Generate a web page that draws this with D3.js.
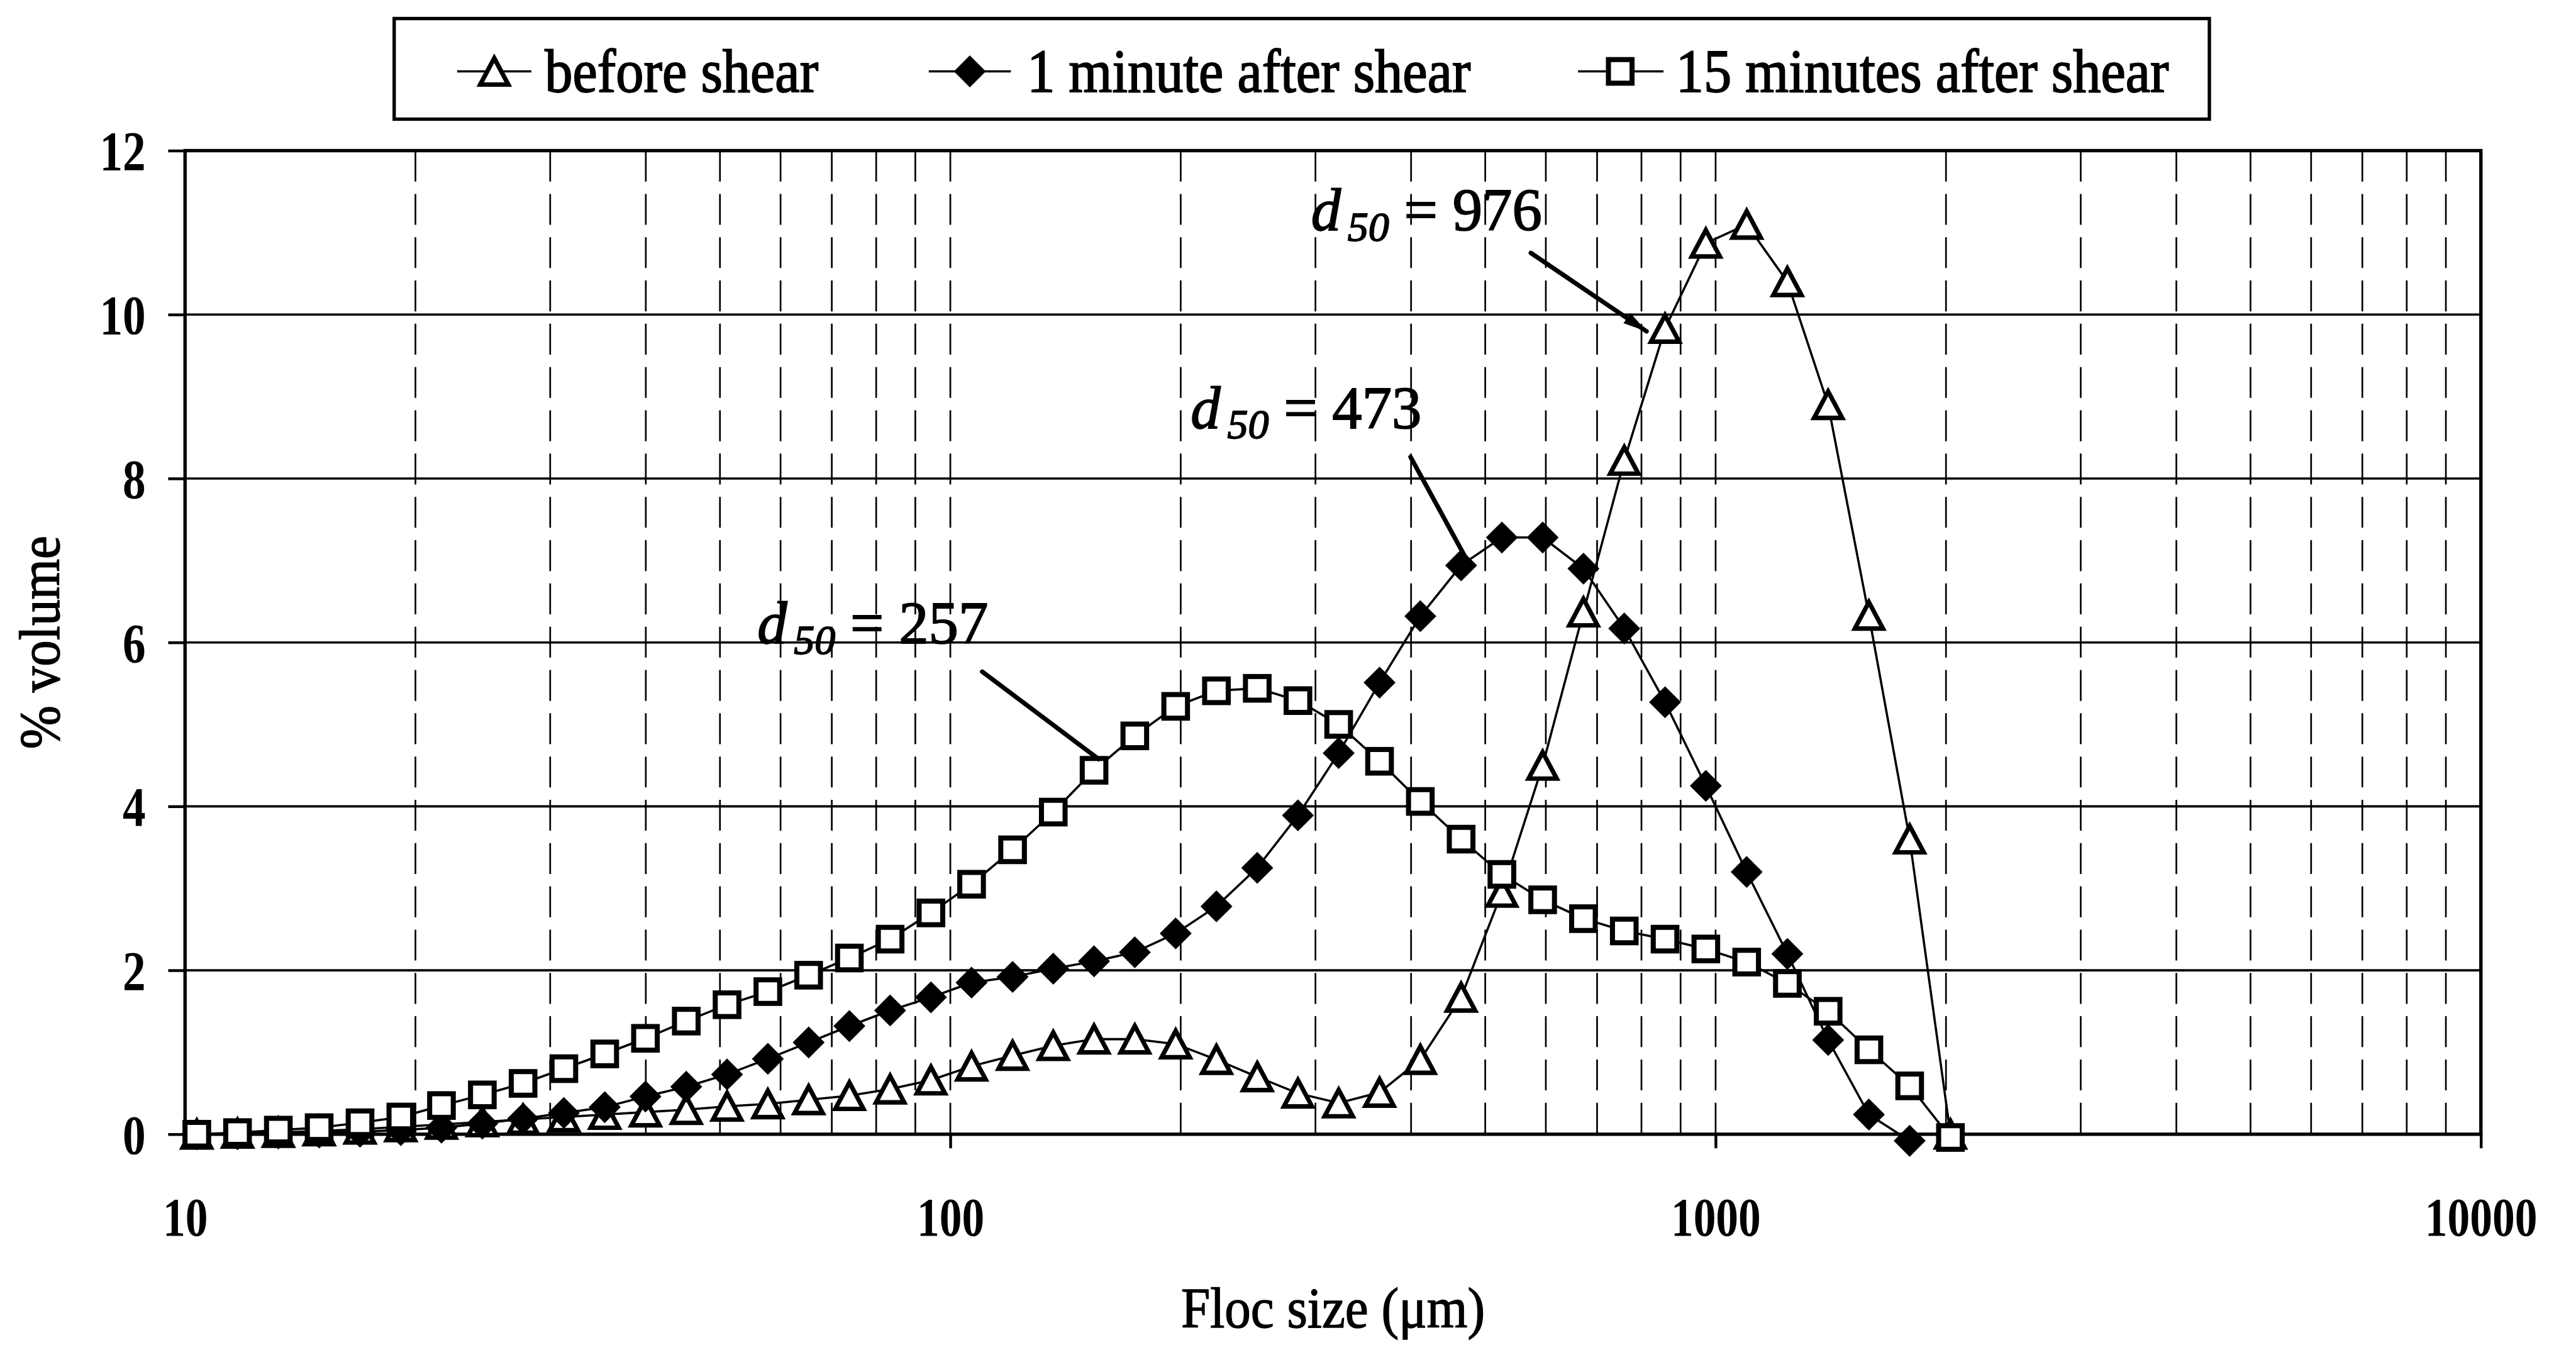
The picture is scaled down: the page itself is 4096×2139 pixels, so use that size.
<!DOCTYPE html>
<html>
<head>
<meta charset="utf-8">
<script src="https://cdn.jsdelivr.net/npm/d3@7"></script>
<style>
  html, body { margin: 0; padding: 0; background: #fff; overflow: hidden; }
  svg { display: block; }
</style>
</head>
<body>
<svg id="chart"></svg>
<script>
// ---- data -------------------------------------------------------------
// Floc size classes (µm), log-spaced
const flocSize = [10.36, 11.71, 13.24, 14.97, 16.93, 19.14, 21.63, 24.46, 27.65, 31.26,
  35.35, 39.96, 45.18, 51.08, 57.75, 65.29, 73.80, 83.43, 94.33, 106.6,
  120.6, 136.3, 154.1, 174.2, 197.0, 222.7, 251.8, 284.6, 321.7, 363.8,
  411.3, 465.0, 525.7, 594.3, 671.9, 759.7, 858.9, 971.0, 1098, 1241,
  1403, 1586, 1793, 2027];

// % volume in each size class
const beforeShear = [0.00, 0.01, 0.02, 0.04, 0.06, 0.09, 0.12, 0.15, 0.18, 0.21,
  0.24, 0.27, 0.30, 0.34, 0.37, 0.42, 0.47, 0.55, 0.66, 0.83,
  0.96, 1.08, 1.16, 1.16, 1.10, 0.91, 0.70, 0.50, 0.38, 0.51,
  0.91, 1.67, 2.95, 4.50, 6.37, 8.22, 9.83, 10.87, 11.10, 10.40,
  8.90, 6.33, 3.60, 0.00];

const oneMinuteAfter = [0.00, 0.00, 0.01, 0.02, 0.03, 0.05, 0.08, 0.13, 0.19, 0.26,
  0.33, 0.46, 0.58, 0.73, 0.92, 1.12, 1.32, 1.51, 1.67, 1.85,
  1.92, 2.02, 2.11, 2.22, 2.45, 2.78, 3.25, 3.89, 4.65, 5.51,
  6.32, 6.94, 7.28, 7.28, 6.90, 6.17, 5.27, 4.25, 3.20, 2.20,
  1.15, 0.24, -0.08];

const fifteenMinutesAfter = [0.00, 0.02, 0.05, 0.08, 0.14, 0.21, 0.35, 0.48, 0.62, 0.80,
  0.98, 1.17, 1.38, 1.58, 1.74, 1.94, 2.15, 2.38, 2.70, 3.05,
  3.47, 3.93, 4.44, 4.86, 5.22, 5.41, 5.44, 5.29, 5.00, 4.55,
  4.06, 3.60, 3.17, 2.86, 2.63, 2.48, 2.38, 2.26, 2.10, 1.84,
  1.50, 1.03, 0.59, -0.04];

const seriesNames = ["before shear", "1 minute after shear", "15 minutes after shear"];
const d50Values = [257, 473, 976];

const xTickValues = [10, 100, 1000, 10000];
const yTickValues = [0, 2, 4, 6, 8, 10, 12];
const xTitle = "Floc size (\u03BCm)";
const yTitle = "% volume";

// ---- layout -----------------------------------------------------------
const W = 4582, H = 2393;
const FONT = "'Liberation Serif', 'Times New Roman', serif";
const plot = { left: 329, right: 4413, top: 268, bottom: 2018 };

const svg = d3.select("#chart")
  .attr("width", 4096).attr("height", 2139)
  .attr("viewBox", `0 0 ${W} ${H}`);

svg.append("rect").attr("width", W).attr("height", H).attr("fill", "#fff");

const x = d3.scaleLog().domain([10, 10000]).range([plot.left, plot.right]);
const y = d3.scaleLinear().domain([0, 12]).range([plot.bottom, plot.top]);

// heavier strokes on text, as in a printed figure
function inked(sel, w) {
  return sel.attr("stroke", "#000").attr("stroke-width", w).attr("paint-order", "stroke");
}

// ---- gridlines --------------------------------------------------------
const grid = svg.append("g");
const vGrid = x.ticks().filter(v => v > 10 && v < 10000);
grid.selectAll("line.v").data(vGrid).join("line")
  .attr("class", "v")
  .attr("x1", d => x(d)).attr("x2", d => x(d))
  .attr("y1", plot.top).attr("y2", plot.bottom)
  .attr("stroke", "#000").attr("stroke-width", 3)
  .attr("stroke-dasharray", "55 22");

grid.selectAll("line.h").data(yTickValues.filter(v => v > 0 && v < 12)).join("line")
  .attr("class", "h")
  .attr("x1", plot.left).attr("x2", plot.right)
  .attr("y1", d => y(d)).attr("y2", d => y(d))
  .attr("stroke", "#000").attr("stroke-width", 4);

// plot frame
svg.append("rect")
  .attr("x", plot.left).attr("y", plot.top)
  .attr("width", plot.right - plot.left).attr("height", plot.bottom - plot.top)
  .attr("fill", "none").attr("stroke", "#000").attr("stroke-width", 6);

// ---- axes -------------------------------------------------------------
const yAxisG = svg.append("g").attr("transform", `translate(${plot.left},0)`)
  .call(d3.axisLeft(y).tickValues(yTickValues).tickSize(30).tickSizeOuter(0).tickFormat(d3.format("d")));
yAxisG.select(".domain").remove();
yAxisG.selectAll(".tick line").attr("stroke", "#000").attr("stroke-width", 5);
yAxisG.attr("font-family", FONT).attr("font-size", 82).attr("font-weight", "bold");
yAxisG.selectAll(".tick text")
  .attr("x", 0).attr("dy", null).attr("fill", "#000")
  .attr("transform", "translate(-70,34) scale(1,1.2)");

const xAxisG = svg.append("g").attr("transform", `translate(0,${plot.bottom})`)
  .call(d3.axisBottom(x).tickValues(xTickValues).tickSize(25).tickSizeOuter(0).tickFormat(d3.format("d")));
xAxisG.select(".domain").remove();
xAxisG.selectAll(".tick line").attr("stroke", "#000").attr("stroke-width", 5);
xAxisG.attr("font-family", FONT).attr("font-size", 80).attr("font-weight", "bold");
xAxisG.selectAll(".tick text")
  .attr("y", 0).attr("dy", null).attr("fill", "#000")
  .attr("transform", "translate(0,180) scale(1,1.2)");

// axis titles
inked(svg.append("text")
  .attr("transform", `translate(${(plot.left + plot.right) / 2},2362) scale(1,1.1)`)
  .attr("text-anchor", "middle")
  .attr("font-family", FONT).attr("font-size", 93)
  .text(xTitle), 1.5);

inked(svg.append("text")
  .attr("transform", `translate(105,${(plot.top + plot.bottom) / 2}) rotate(-90) scale(1,1.1)`)
  .attr("text-anchor", "middle")
  .attr("font-family", FONT).attr("font-size", 93)
  .text(yTitle), 1.5);

// ---- markers ----------------------------------------------------------
function drawMarker(g, kind, cx, cy) {
  if (kind === "triangle") {
    const w = 50, h = 47;
    g.append("path")
      .attr("d", `M${cx},${cy - h / 2}L${cx + w / 2},${cy + h / 2}L${cx - w / 2},${cy + h / 2}Z`)
      .attr("fill", "#fff").attr("stroke", "#000").attr("stroke-width", 8)
      .attr("stroke-linejoin", "miter");
  } else if (kind === "diamond") {
    const r = 27;
    g.append("path")
      .attr("d", `M${cx},${cy - r}L${cx + r},${cy}L${cx},${cy + r}L${cx - r},${cy}Z`)
      .attr("fill", "#000").attr("stroke", "#000").attr("stroke-width", 2);
  } else {
    const s = 42;
    g.append("rect")
      .attr("x", cx - s / 2).attr("y", cy - s / 2).attr("width", s).attr("height", s)
      .attr("fill", "#fff").attr("stroke", "#000").attr("stroke-width", 9);
  }
}

const series = [
  { name: seriesNames[0], values: beforeShear, marker: "triangle" },
  { name: seriesNames[1], values: oneMinuteAfter, marker: "diamond" },
  { name: seriesNames[2], values: fifteenMinutesAfter, marker: "square" }
];

const line = d3.line().x(d => x(d[0])).y(d => y(d[1]));

series.forEach(s => {
  const pts = s.values.map((v, i) => [flocSize[i], v]);
  const g = svg.append("g");
  g.append("path").attr("d", line(pts))
    .attr("fill", "none").attr("stroke", "#000").attr("stroke-width", 4);
  pts.forEach(p => drawMarker(g, s.marker, x(p[0]), y(p[1])));
});

// ---- d50 annotations --------------------------------------------------
const annotLayout = [
  { tx: 1347, ty: 1145, sx: 1747, sy: 1195, series: 2, idx: 22, ox: 8, oy: -20, arrow: false },
  { tx: 2118, ty: 762, sx: 2509, sy: 813, series: 1, idx: 31, ox: 9, oy: -12, arrow: false },
  { tx: 2332, ty: 410, sx: 2723, sy: 450, series: 0, idx: 36, ox: -33, oy: 5, arrow: true }
];

annotLayout.forEach((a, k) => {
  const t = inked(svg.append("text")
    .attr("x", a.tx).attr("y", a.ty)
    .attr("font-family", FONT).attr("font-size", 106), 2);
  t.append("tspan").attr("font-style", "italic").text("d");
  t.append("tspan").attr("font-style", "italic").attr("font-size", 74)
    .attr("dx", 12).attr("dy", 18).text("50");
  t.append("tspan").attr("dy", -18).text(` = ${d50Values[k]}`);

  const s = series[a.series];
  const ex = x(flocSize[a.idx]) + a.ox;
  const ey = y(s.values[a.idx]) + a.oy;
  svg.append("line")
    .attr("x1", a.sx).attr("y1", a.sy).attr("x2", ex).attr("y2", ey)
    .attr("stroke", "#000").attr("stroke-width", 8).attr("stroke-linecap", "round");
  if (a.arrow) {
    const ang = Math.atan2(ey - a.sy, ex - a.sx);
    const L = 42, hw = 11;
    const bx = ex - L * Math.cos(ang), by = ey - L * Math.sin(ang);
    const px = -Math.sin(ang) * hw, py = Math.cos(ang) * hw;
    svg.append("path")
      .attr("d", `M${ex},${ey}L${bx + px},${by + py}L${bx - px},${by - py}Z`)
      .attr("fill", "#000");
  }
});

// ---- legend -----------------------------------------------------------
const legend = svg.append("g");
legend.append("rect")
  .attr("x", 701).attr("y", 33).attr("width", 3229).attr("height", 179)
  .attr("fill", "#fff").attr("stroke", "#000").attr("stroke-width", 6);

const legendLayout = [
  { x1: 813, mx: 879, x2: 945, tx: 969 },
  { x1: 1652, mx: 1725, x2: 1798, tx: 1827 },
  { x1: 2807, mx: 2882, x2: 2959, tx: 2981 }
];
series.forEach((s, i) => {
  const L = legendLayout[i];
  legend.append("line")
    .attr("x1", L.x1).attr("x2", L.x2).attr("y1", 127).attr("y2", 127)
    .attr("stroke", "#000").attr("stroke-width", 4);
  drawMarker(legend, s.marker, L.mx, 127);
  inked(legend.append("text")
    .attr("transform", `translate(${L.tx},163) scale(1,1.1)`)
    .attr("font-family", FONT).attr("font-size", 99)
    .text(s.name), 2);
});
</script>
</body>
</html>
